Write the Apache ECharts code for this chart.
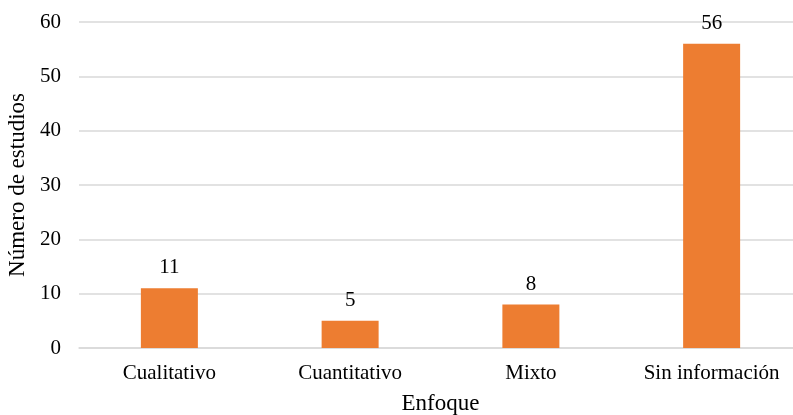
<!DOCTYPE html>
<html>
<head>
<meta charset="utf-8">
<script src="https://cdn.jsdelivr.net/npm/echarts@6/dist/echarts.min.js"></script>
<style>html,body{margin:0;padding:0;background:#fff;}#c{width:793px;height:415px;}</style>
</head>
<body>
<div id="c"></div>
<script>
const categories = ['Cualitativo', 'Cuantitativo', 'Mixto', 'Sin información'];
const values = [11, 5, 8, 56];
const yTicks = { min: 0, max: 60, interval: 10 };

const font = 'Liberation Serif';
const chart = echarts.init(document.getElementById('c'), null, { renderer: 'canvas' });
chart.setOption({
  animation: false,
  grid: { left: 79, top: 22, width: 723, height: 326, containLabel: false, outerBoundsMode: 'none' },
  xAxis: {
    type: 'category',
    data: categories,
    name: 'Enfoque',
    nameLocation: 'middle',
    nameGap: 44,
    nameTextStyle: { fontFamily: font, fontSize: 23, color: '#000' },
    axisLine: { show: true, lineStyle: { color: '#d9d9d9', width: 1.5 } },
    axisTick: { show: false },
    axisLabel: { fontFamily: font, fontSize: 21, color: '#000', margin: 15 }
  },
  yAxis: {
    type: 'value',
    min: yTicks.min, max: yTicks.max, interval: yTicks.interval,
    name: 'Número de estudios',
    nameLocation: 'middle',
    nameGap: 50,
    nameRotate: 90,
    nameTextStyle: { fontFamily: font, fontSize: 23, color: '#000' },
    axisLine: { show: false },
    axisTick: { show: false },
    axisLabel: { fontFamily: font, fontSize: 21, color: '#000', margin: 18 },
    splitLine: { lineStyle: { color: '#d9d9d9', width: 1.5 } }
  },
  series: [{
    type: 'bar',
    data: values,
    barWidth: 57,
    itemStyle: { color: '#ED7D31' },
    label: { show: true, position: 'top', distance: 10, fontFamily: font, fontSize: 21, color: '#000' }
  }]
});
</script>
</body>
</html>
